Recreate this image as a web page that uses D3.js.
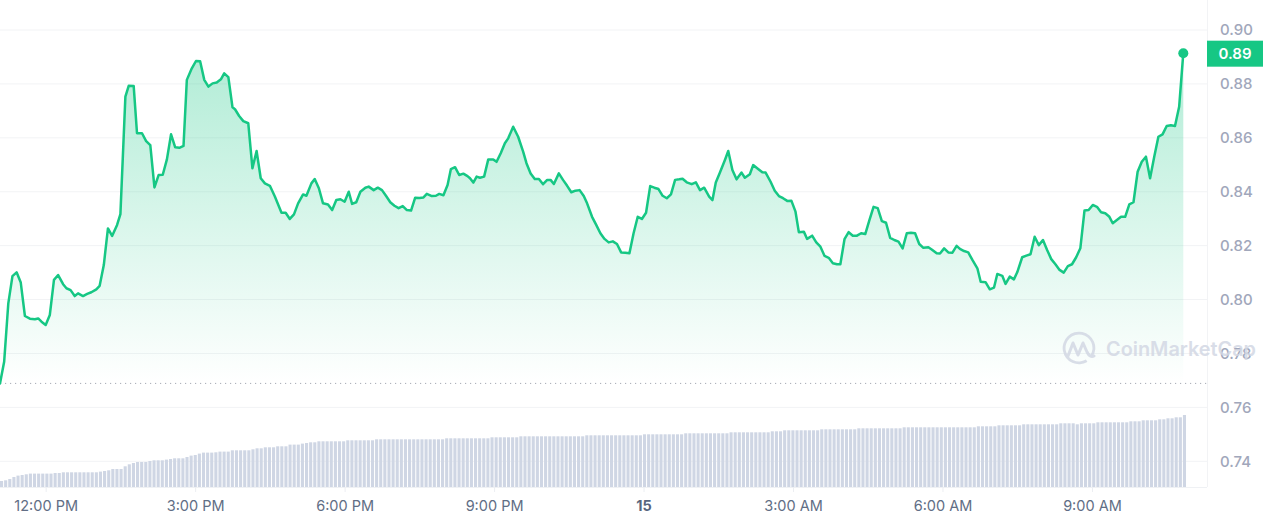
<!DOCTYPE html>
<html>
<head>
<meta charset="utf-8">
<script src="https://cdn.jsdelivr.net/npm/d3@7"></script>
<style>
  html, body { margin: 0; padding: 0; background: #ffffff; }
  svg { display: block; font-family: Inter, "Noto Sans", sans-serif; }
</style>
</head>
<body>
<svg id="chart" width="1265" height="522"></svg>
<script>
// ---- data ----
const startTime = new Date(2024, 5, 14, 11, 5);
const minutes = [0,5,10,15,20,25,30,36,42,46,50,55,60,65,70,76,80,85,90,94,100,105,110,116,120,125,130,135,141,145,151,155,161,165,171,176,181,186,191,196,201,206,211,216,221,225,231,236,241,246,251,256,261,266,270,275,280,283,288,
293,299,304,309,314,319,325,331,339,344,349,354,359,365,369,375,379,384,389,395,400,405,410,415,420,424,429,434,440,444,450,455,460,465,470,475,480,485,490,495,500,505,510,514,520,525,529,534,539,543,548,553,558,563,
566,570,574,578,583,588,594,598,603,608,612,618,624,630,634,639,644,649,654,659,663,667,673,678,683,688,693,698,703,707,713,718,723,728,733,738,743,748,753,758,763,768,773,778,783,788,793,798,803,808,813,818,822,827,833,838,843,848,
854,858,862,867,873,877,882,887,893,897,903,907,913,918,922,928,933,938,943,948,953,958,962,968,972,978,983,988,993,998,1003,1008,1012,1017,1022,1027,1032,1037,1042,1047,1052,1057,1062,1067,1072,1077,1082,1087,1092,1097,1102,1107,1112,1118,1122,1128,1132,
1137,1142,1147,1152,1156,1161,1166,1171,1177,1181,1187,1192,1197,1201,1207,1211,1216,1221,1225,1231,1236,1241,1246,1251,1256,1261,1266,1271,1276,1281,1286,1291,1296,1301,1306,1311,1316,1321,1326,1331,1336,1340,1345,1350,1355,1360,1365,1370,1375,1380,1385,1390,1395,1400,1405,1410,1415,1420,1425];

const prices = [0.7689,0.7769,0.7986,0.8087,0.8101,0.8063,0.7939,0.7929,0.7927,0.7930,0.7918,0.7906,0.7943,0.8073,0.8091,0.8057,0.8042,0.8035,0.8013,0.8023,0.8013,0.8021,0.8027,0.8038,0.8051,0.8128,0.8264,0.8236,0.8277,0.8317,0.8753,0.8793,0.8792,0.8617,0.8617,0.8588,0.8573,0.8416,0.8462,0.8463,0.8520,0.8613,0.8565,0.8563,0.8570,0.8815,0.8858,0.8885,0.8884,0.8815,0.8790,0.8802,0.8805,0.8817,0.8839,0.8825,0.8713,0.8706,0.8681,
0.8662,0.8654,0.8487,0.8551,0.8450,0.8431,0.8422,0.8382,0.8322,0.8322,0.8299,0.8316,0.8357,0.8390,0.8385,0.8431,0.8447,0.8413,0.8357,0.8353,0.8332,0.8369,0.8372,0.8363,0.8400,0.8355,0.8361,0.8400,0.8415,0.8419,0.8406,0.8415,0.8406,0.8384,0.8361,0.8348,0.8339,0.8347,0.8332,0.8330,0.8378,0.8377,0.8379,0.8392,0.8384,0.8385,0.8392,0.8387,0.8425,0.8484,0.8491,0.8462,0.8467,0.8458,
0.8450,0.8434,0.8456,0.8452,0.8456,0.8520,0.8520,0.8511,0.8543,0.8580,0.8598,0.8641,0.8604,0.8549,0.8506,0.8468,0.8447,0.8447,0.8428,0.8444,0.8444,0.8429,0.8468,0.8444,0.8422,0.8398,0.8404,0.8406,0.8384,0.8357,0.8307,0.8277,0.8246,0.8225,0.8212,0.8216,0.8206,0.8175,0.8174,0.8172,0.8246,0.8307,0.8299,0.8322,0.8421,0.8415,0.8410,0.8385,0.8376,0.8390,0.8444,0.8446,0.8448,0.8435,0.8428,0.8435,0.8406,0.8415,
0.8382,0.8369,0.8434,0.8471,0.8518,0.8551,0.8481,0.8446,0.8471,0.8452,0.8465,0.8499,0.8484,0.8472,0.8471,0.8437,0.8404,0.8384,0.8376,0.8366,0.8367,0.8326,0.8250,0.8252,0.8225,0.8237,0.8212,0.8196,0.8162,0.8155,0.8135,0.8131,0.8131,0.8224,0.8250,0.8237,0.8237,0.8246,0.8243,0.8295,0.8344,0.8339,0.8291,0.8285,0.8229,0.8221,0.8215,0.8190,0.8246,0.8248,0.8246,0.8206,0.8192,0.8194,0.8186,0.8172,0.8171,
0.8190,0.8175,0.8174,0.8199,0.8188,0.8180,0.8175,0.8147,0.8116,0.8066,0.8064,0.8038,0.8044,0.8095,0.8088,0.8058,0.8085,0.8075,0.8101,0.8157,0.8163,0.8168,0.8233,0.8202,0.8221,0.8184,0.8150,0.8131,0.8110,0.8100,0.8124,0.8131,0.8157,0.8190,0.8330,0.8332,0.8351,0.8344,0.8324,0.8320,0.8307,0.8283,0.8295,0.8307,0.8307,0.8353,0.8361,0.8474,0.8511,0.8530,0.8450,0.8530,0.8604,0.8613,0.8644,0.8647,0.8644,0.8715,0.8914];

const volumes = [6.0,6.7,8.0,10.0,11.4,12.0,12.7,
13.4,13.4,13.4,13.4,13.4,13.4,14.0,14.0,
14.7,14.7,14.7,14.7,14.7,14.7,14.7,14.7,14.7,
15.4,16.0,16.7,18.0,18.0,18.0,20.7,22.7,24.0,25.0,25.0,25.0,26.0,26.7,26.7,26.7,27.4,28.0,28.7,28.7,28.7,
30.0,31.4,32.0,33.4,34.4,34.4,34.4,34.7,35.4,35.4,35.4,36.7,36.7,36.7,36.7,36.7,
37.7,38.7,38.7,39.7,39.7,39.7,40.7,40.7,40.7,42.4,42.4,42.4,43.4,44.0,44.7,44.7,
45.7,45.7,45.7,45.7,45.7,45.7,45.7,
46.7,46.7,46.7,46.7,46.7,46.7,46.7,
47.7,47.7,47.7,47.7,47.7,47.7,47.7,47.7,47.7,47.7,47.7,47.7,47.7,47.7,47.7,47.7,47.7,
48.7,48.7,48.7,48.7,48.7,48.7,48.7,48.7,48.7,48.7,48.7,
49.7,49.7,49.7,49.7,49.7,49.7,49.7,
50.7,50.7,50.7,50.7,50.7,50.7,50.7,50.7,50.7,50.7,50.7,50.7,50.7,50.7,50.7,50.7,
51.7,51.7,51.7,51.7,51.7,51.7,51.7,51.7,51.7,51.7,51.7,51.7,51.7,51.7,
52.7,52.7,52.7,52.7,52.7,52.7,52.7,52.7,52.7,52.7,
53.7,53.7,53.7,53.7,53.7,53.7,53.7,53.7,53.7,53.7,53.7,
54.7,54.7,54.7,54.7,54.7,54.7,54.7,54.7,54.7,54.7,
55.7,55.7,55.7,
56.7,56.7,56.7,56.7,56.7,56.7,56.7,56.7,56.7,
57.7,57.7,57.7,57.7,57.7,57.7,57.7,57.7,57.7,
58.7,58.7,58.7,58.7,58.7,58.7,58.7,58.7,58.7,58.7,58.7,
59.7,59.7,59.7,59.7,59.7,59.7,59.7,59.7,59.7,59.7,59.7,59.7,59.7,59.7,59.7,59.7,59.7,59.7,
60.7,60.7,60.7,60.7,60.7,
61.7,61.7,61.7,61.7,61.7,61.7,
62.7,62.7,62.7,62.7,62.7,62.7,62.7,62.7,62.7,
63.7,63.7,63.7,63.7,62.7,63.7,63.7,63.7,63.7,
64.7,64.7,64.7,64.7,64.7,64.7,64.7,64.7,
65.7,65.7,65.7,66.7,66.7,66.7,66.7,67.7,67.7,68.7,68.7,69.7,69.7,72.0];

const priceTicks = [0.74, 0.76, 0.78, 0.80, 0.82, 0.84, 0.86, 0.88, 0.90];
const watermarkText = "CoinMarketCap";

// ---- drawing ----
const svg = d3.select("#chart");
const plotRight = 1207, plotBottom = 487;
const GREEN = "#16c784";

const times = minutes.map(m => d3.timeMinute.offset(startTime, m));
const points = times.map((t, i) => ({ t, p: prices[i] }));

const x = d3.scaleTime()
  .domain([startTime, d3.timeMinute.offset(startTime, minutes[minutes.length - 1])])
  .range([0, 1183.3]);
const y = d3.scaleLinear().domain([0.74, 0.90]).range([461.3, 30]);
const vx = d3.scaleBand().domain(d3.range(volumes.length)).range([0, 1186]).paddingInner(0.25);
const vy = d3.scaleLinear().domain([0, 80]).range([plotBottom, plotBottom - 80]);

// gradient
const defs = svg.append("defs");
const openPrice = prices[0];
const grad = defs.append("linearGradient").attr("id", "areaGrad")
  .attr("gradientUnits", "userSpaceOnUse")
  .attr("x1", 0).attr("x2", 0)
  .attr("y1", y(0.89)).attr("y2", y(openPrice));
grad.append("stop").attr("offset", 0).attr("stop-color", GREEN).attr("stop-opacity", 0.33);
grad.append("stop").attr("offset", 1).attr("stop-color", GREEN).attr("stop-opacity", 0.0);

// grid lines
svg.append("g").selectAll("line").data(priceTicks).join("line")
  .attr("x1", 0).attr("x2", plotRight)
  .attr("y1", d => y(d)).attr("y2", d => y(d))
  .attr("stroke", "#f2f3f5").attr("stroke-width", 1);
svg.append("line").attr("x1", plotRight + 0.5).attr("x2", plotRight + 0.5)
  .attr("y1", 0).attr("y2", plotBottom).attr("stroke", "#f2f3f5");
svg.append("line").attr("x1", 0).attr("x2", plotRight)
  .attr("y1", plotBottom + 0.5).attr("y2", plotBottom + 0.5).attr("stroke", "#eff1f4");

// volume bars
svg.append("g").selectAll("rect").data(volumes).join("rect")
  .attr("x", (d, i) => vx(i))
  .attr("width", vx.bandwidth())
  .attr("y", d => vy(d))
  .attr("height", d => vy(0) - vy(d))
  .attr("fill", "#cfd6e4");

// area
const area = d3.area().x(d => x(d.t)).y0(y(openPrice)).y1(d => y(d.p));
svg.append("path").datum(points).attr("d", area).attr("fill", "url(#areaGrad)");

// dotted open-price line
svg.append("line").attr("x1", 0).attr("x2", plotRight)
  .attr("y1", y(openPrice)).attr("y2", y(openPrice))
  .attr("stroke", "#a6abb5").attr("stroke-width", 1)
  .attr("stroke-dasharray", "1.2 3.8");

// price line
const line = d3.line().x(d => x(d.t)).y(d => y(d.p));
svg.append("path").datum(points).attr("d", line)
  .attr("fill", "none").attr("stroke", GREEN).attr("stroke-width", 2.5)
  .attr("stroke-linejoin", "round").attr("stroke-linecap", "round");

// end dot
const last = points[points.length - 1];
svg.append("circle").attr("cx", x(last.t)).attr("cy", y(last.p)).attr("r", 5).attr("fill", GREEN);

// y labels
svg.append("g").selectAll("text").data(priceTicks).join("text")
  .attr("x", 1220).attr("y", d => y(d))
  .attr("dy", "0.36em")
  .attr("font-size", 15).attr("font-weight", 500).attr("fill", "#a1a7bb")
  .text(d => d3.format(".2f")(d));

// last-price badge
svg.append("rect").attr("x", plotRight).attr("y", y(last.p) - 12.5)
  .attr("width", 56).attr("height", 26).attr("fill", GREEN);
svg.append("text").attr("x", plotRight + 28).attr("y", y(last.p) + 0.5)
  .attr("dy", "0.36em").attr("text-anchor", "middle")
  .attr("font-size", 15).attr("font-weight", 600).attr("fill", "#ffffff")
  .text(d3.format(".2f")(last.p));

// x axis
const xAxis = d3.axisBottom(x)
  .ticks(d3.timeHour.every(3))
  .tickSize(5)
  .tickPadding(9)
  .tickFormat(d => d.getHours() === 0 ? d3.timeFormat("%-d")(d) : d3.timeFormat("%-I:%M %p")(d));
const gx = svg.append("g").attr("transform", `translate(0,${plotBottom})`).call(xAxis);
gx.select(".domain").remove();
gx.selectAll(".tick line").attr("stroke", "#eceef2");
gx.selectAll(".tick text")
  .attr("font-family", "Inter, 'Noto Sans', sans-serif")
  .attr("font-size", 14.5)
  .attr("fill", d => d.getHours() === 0 ? "#58667e" : "#616e85")
  .attr("font-weight", d => d.getHours() === 0 ? 700 : 400);

// watermark (drawn over the 0.78 label, as in the reference)
const wm = svg.append("g").attr("opacity", 0.85);
wm.append("path")
  .attr("d", d3.arc()({ innerRadius: 13.5, outerRadius: 16.3, startAngle: 2.6, endAngle: 2 * Math.PI + 2.15 }))
  .attr("transform", "translate(1079,348)")
  .attr("fill", "#d3d8e4");
wm.append("path")
  .attr("d", "M1068,356 L1073,343 L1078,355 L1083,343 L1087,352 Q1090,358 1094,356")
  .attr("fill", "none").attr("stroke", "#d3d8e4").attr("stroke-width", 3)
  .attr("stroke-linejoin", "round").attr("stroke-linecap", "round");
wm.append("text").attr("x", 1106).attr("y", 356)
  .attr("font-size", 20).attr("font-weight", 600).attr("fill", "#d3d8e4")
  .attr("textLength", 150).attr("lengthAdjust", "spacingAndGlyphs")
  .text(watermarkText);
</script>
</body>
</html>
